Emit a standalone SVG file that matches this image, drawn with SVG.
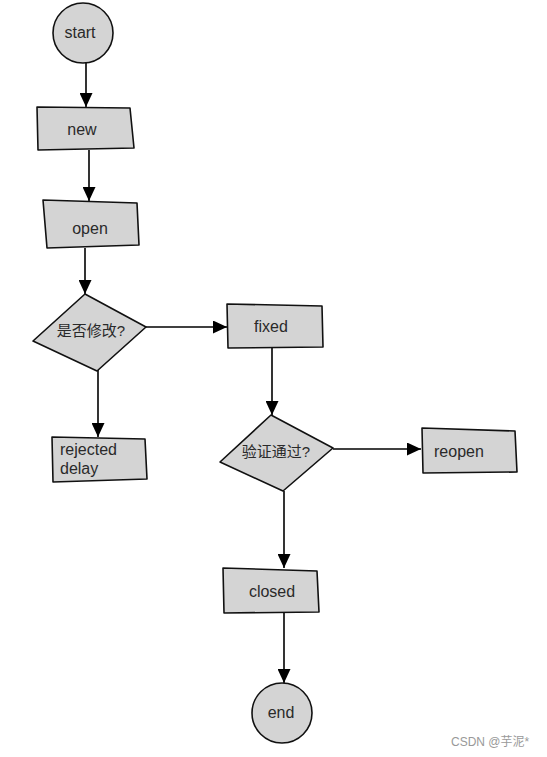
<svg xmlns="http://www.w3.org/2000/svg" width="547" height="757" viewBox="0 0 547 757">
<defs>
<marker id="arr" markerUnits="userSpaceOnUse" markerWidth="15" markerHeight="13" refX="14" refY="6.5" orient="auto">
<path d="M0,0 L14,6.5 L0,13 z" fill="#000"/>
</marker>
<style>
.s{fill:#d4d4d4;stroke:#111;stroke-width:1.6;stroke-linejoin:round}
.t{font-family:"Liberation Sans","Noto Sans CJK SC",sans-serif;font-size:16px;fill:#2a2a2a}
.z{font-size:15px}
.c{text-anchor:middle}
.e{stroke:#000;stroke-width:1.6;fill:none;marker-end:url(#arr)}
.w{font-family:"Liberation Sans","Noto Sans CJK SC",sans-serif;font-size:12px;fill:#999}
</style>
</defs>
<rect width="547" height="757" fill="#fff"/>
<g id="connectors">
<line class="e" x1="86" y1="63" x2="86" y2="107"/>
<line class="e" x1="89" y1="150" x2="89" y2="201"/>
<line class="e" x1="85" y1="248" x2="85" y2="294"/>
<line class="e" x1="146" y1="327" x2="227" y2="327"/>
<line class="e" x1="98" y1="370" x2="98" y2="437"/>
<line class="e" x1="272" y1="348" x2="272" y2="415"/>
<line class="e" x1="333" y1="449" x2="421" y2="449"/>
<line class="e" x1="284" y1="491" x2="284" y2="568"/>
<line class="e" x1="284" y1="613" x2="284" y2="683"/>
</g>
<g id="start"><circle class="s" cx="83" cy="33" r="30"/><text class="t c" x="80" y="38">start</text></g>
<g id="new"><polygon class="s" points="37,107 130,108 134,148 38,150"/><text class="t c" x="82" y="135">new</text></g>
<g id="open"><polygon class="s" points="43,200 137,203 139,245 47,248"/><text class="t c" x="90" y="234">open</text></g>
<g id="decision1"><polygon class="s" points="85,294 146,327 97,371 33,341"/><text class="t z c" x="91" y="336">是否修改?</text></g>
<g id="fixed"><polygon class="s" points="227,304 322,306 323,347 228,348"/><text class="t c" x="271" y="332">fixed</text></g>
<g id="rejected"><polygon class="s" points="52,437 145,439 147,479 53,482"/><text class="t" x="60" y="455">rejected</text><text class="t" x="60" y="474">delay</text></g>
<g id="decision2"><polygon class="s" points="271,415 333,448 283,491 220,462"/><text class="t z c" x="276" y="457">验证通过?</text></g>
<g id="reopen"><polygon class="s" points="422,428 515,431 517,472 423,473"/><text class="t" x="434" y="457">reopen</text></g>
<g id="closed"><polygon class="s" points="223,568 317,571 319,612 224,613"/><text class="t c" x="272" y="597">closed</text></g>
<g id="end"><circle class="s" cx="282" cy="713" r="30"/><text class="t c" x="281" y="718">end</text></g>
<text class="w" x="451" y="746">CSDN @芋泥*</text>
</svg>
